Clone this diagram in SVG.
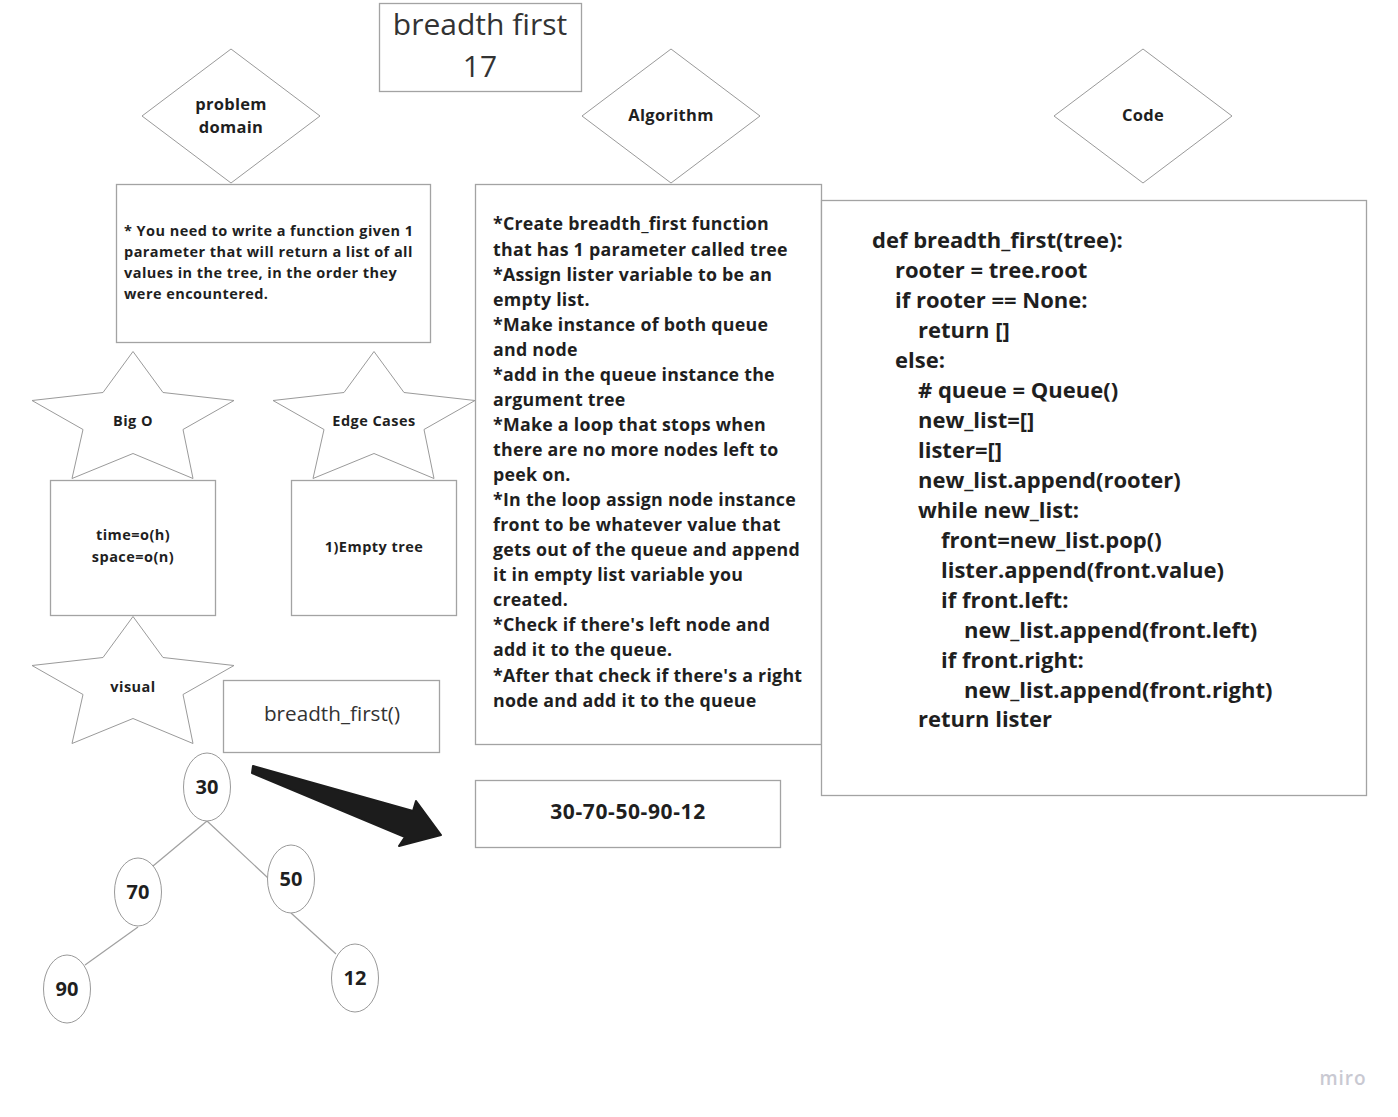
<svg xmlns="http://www.w3.org/2000/svg" width="1398" height="1117" viewBox="0 0 1398 1117">
<style>
.box{fill:#fff;stroke:#a3a3a3;stroke-width:1.3}
.shp{fill:#fff;stroke:#9a9a9a;stroke-width:1}
.edge{stroke:#a0a0a0;stroke-width:1.2;fill:none}
text{font-family:"Open Sans","Noto Sans","Liberation Sans",sans-serif;fill:#1f1f1f}
.lbl{font-weight:700;font-size:16.5px;letter-spacing:0.3px;text-anchor:middle}
.sm{font-weight:700;font-size:14.5px;letter-spacing:0.45px}
.alg{font-weight:700;font-size:17.8px;letter-spacing:0.25px}
.code{font-weight:700;font-size:22px}
.num{font-weight:700;font-size:20px;text-anchor:middle}
</style>
<defs>
<polygon id="star" points="0,0 -30,41 -101,49 -50,78 -61,127 0,102 60,127 50,78 101,49 30,41"/>
</defs>
<rect width="1398" height="1117" fill="#fff"/>

<g id="title">
<rect class="box" x="379.5" y="3.5" width="202" height="88"/>
<text x="480" y="35" font-size="30" text-anchor="middle" style="fill:#333">breadth first</text>
<text x="480" y="77" font-size="30" text-anchor="middle" style="fill:#333">17</text>
</g>

<g id="diamond-problem">
<polygon class="shp" points="231,49 320,116 231,183 142,116"/>
<text class="lbl" x="231" y="110">problem</text>
<text class="lbl" x="231" y="133">domain</text>
</g>
<g id="diamond-algorithm">
<polygon class="shp" points="671,49 760,116 671,183 582,116"/>
<text class="lbl" x="671" y="121">Algorithm</text>
</g>
<g id="diamond-code">
<polygon class="shp" points="1143,49 1232,116 1143,183 1054,116"/>
<text class="lbl" x="1143" y="121">Code</text>
</g>

<g id="problem-box">
<rect class="box" x="116.5" y="184.5" width="314" height="158"/>
<text class="sm" x="124" y="236">* You need to write a function given 1</text>
<text class="sm" x="124" y="257">parameter that will return a list of all</text>
<text class="sm" x="124" y="278">values in the tree, in the order they</text>
<text class="sm" x="124" y="299">were encountered.</text>
</g>

<g id="algorithm-box">
<rect class="box" x="475.5" y="184.5" width="346" height="560"/>
<text class="alg" x="493" y="230">*Create breadth_first function</text>
<text class="alg" x="493" y="256">that has 1 parameter called tree</text>
<text class="alg" x="493" y="281">*Assign lister variable to be an</text>
<text class="alg" x="493" y="306">empty list.</text>
<text class="alg" x="493" y="331">*Make instance of both queue</text>
<text class="alg" x="493" y="356">and node</text>
<text class="alg" x="493" y="381">*add in the queue instance the</text>
<text class="alg" x="493" y="406">argument tree</text>
<text class="alg" x="493" y="431">*Make a loop that stops when</text>
<text class="alg" x="493" y="456">there are no more nodes left to</text>
<text class="alg" x="493" y="481">peek on.</text>
<text class="alg" x="493" y="506">*In the loop assign node instance</text>
<text class="alg" x="493" y="531">front to be whatever value that</text>
<text class="alg" x="493" y="556">gets out of the queue and append</text>
<text class="alg" x="493" y="581">it in empty list variable you</text>
<text class="alg" x="493" y="606">created.</text>
<text class="alg" x="493" y="631">*Check if there's left node and</text>
<text class="alg" x="493" y="656">add it to the queue.</text>
<text class="alg" x="493" y="682">*After that check if there's a right</text>
<text class="alg" x="493" y="707">node and add it to the queue</text>
</g>

<g id="code-box">
<rect class="box" x="821.5" y="200.5" width="545" height="595"/>
<text class="code" x="872" y="248">def breadth_first(tree):</text>
<text class="code" x="895" y="278">rooter = tree.root</text>
<text class="code" x="895" y="308">if rooter == None:</text>
<text class="code" x="918" y="338">return []</text>
<text class="code" x="895" y="368">else:</text>
<text class="code" x="918" y="398"># queue = Queue()</text>
<text class="code" x="918" y="428">new_list=[]</text>
<text class="code" x="918" y="458">lister=[]</text>
<text class="code" x="918" y="488">new_list.append(rooter)</text>
<text class="code" x="918" y="518">while new_list:</text>
<text class="code" x="941" y="548">front=new_list.pop()</text>
<text class="code" x="941" y="578">lister.append(front.value)</text>
<text class="code" x="941" y="608">if front.left:</text>
<text class="code" x="964" y="638">new_list.append(front.left)</text>
<text class="code" x="941" y="668">if front.right:</text>
<text class="code" x="964" y="698">new_list.append(front.right)</text>
<text class="code" x="918" y="727">return lister</text>
</g>

<g id="star-bigo">
<use href="#star" class="shp" x="133" y="351.5"/>
<text class="sm" x="133" y="426" text-anchor="middle">Big O</text>
</g>
<g id="star-edge">
<use href="#star" class="shp" x="374" y="351.5"/>
<text class="sm" x="374" y="426" text-anchor="middle">Edge Cases</text>
</g>

<g id="bigo-box">
<rect class="box" x="50.5" y="480.5" width="165" height="135"/>
<text class="sm" x="133" y="540" text-anchor="middle">time=o(h)</text>
<text class="sm" x="133" y="562" text-anchor="middle">space=o(n)</text>
</g>
<g id="edge-box">
<rect class="box" x="291.5" y="480.5" width="165" height="135"/>
<text class="sm" x="374" y="552" text-anchor="middle">1)Empty tree</text>
</g>

<g id="star-visual">
<use href="#star" class="shp" x="133" y="616.5"/>
<text class="sm" x="133" y="692" text-anchor="middle">visual</text>
</g>

<g id="func-box">
<rect class="box" x="223.5" y="680.5" width="216" height="72"/>
<text x="332" y="721" font-size="20.7" text-anchor="middle" style="fill:#333">breadth_first()</text>
</g>

<g id="connectors">
<line class="edge" x1="207" y1="821" x2="153" y2="866"/>
<line class="edge" x1="207" y1="821" x2="268" y2="878"/>
<line class="edge" x1="138" y1="927" x2="85" y2="965"/>
<line class="edge" x1="291" y1="913" x2="336" y2="954"/>
<polygon points="253,766 413,811 416,801 441,835 399,846 405,837 252,773" fill="#1c1c1c" stroke="#1c1c1c" stroke-width="2" stroke-linejoin="round"/>
</g>

<g id="node-30">
<ellipse class="shp" cx="207" cy="787" rx="23.5" ry="34"/>
<text class="num" x="207" y="794">30</text>
</g>
<g id="node-70">
<ellipse class="shp" cx="138" cy="892" rx="23.5" ry="34"/>
<text class="num" x="138" y="899">70</text>
</g>
<g id="node-50">
<ellipse class="shp" cx="291" cy="879" rx="23.5" ry="34"/>
<text class="num" x="291" y="886">50</text>
</g>
<g id="node-90">
<ellipse class="shp" cx="67" cy="989" rx="23.5" ry="34"/>
<text class="num" x="67" y="996">90</text>
</g>
<g id="node-12">
<ellipse class="shp" cx="355" cy="978" rx="23.5" ry="34"/>
<text class="num" x="355" y="985">12</text>
</g>

<g id="result-box">
<rect class="box" x="475.5" y="780.5" width="305" height="67"/>
<text x="628" y="819" font-size="21" font-weight="700" text-anchor="middle" style="letter-spacing:0.6px">30-70-50-90-12</text>
</g>

<text x="1343" y="1085" font-size="19" font-weight="600" text-anchor="middle" style="fill:#c9c9d2;letter-spacing:1px">miro</text>
</svg>
